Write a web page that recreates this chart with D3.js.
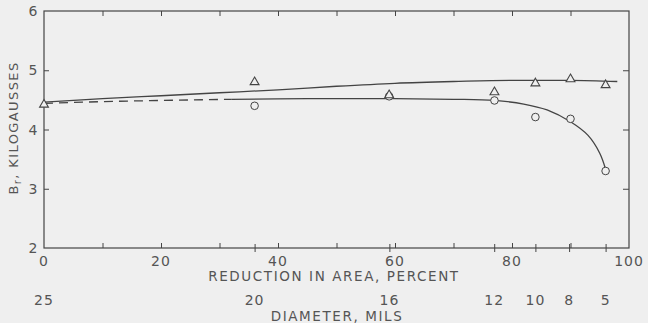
<!DOCTYPE html>
<html>
<head>
<meta charset="utf-8">
<script src="https://cdn.jsdelivr.net/npm/d3@7"></script>
<style>
  body { margin: 0; background: #efefef; }
  svg { display: block; }
  text { font-family: "DejaVu Sans", sans-serif; fill: #555; }
</style>
</head>
<body>
<div id="chart"></div>
<script>
// measured points (reduction in area %, Br kilogausses)
const triReduction = [0, 36, 59, 77, 84, 90, 96];
const triBr = [4.42, 4.80, 4.58, 4.63, 4.78, 4.85, 4.75];
const circReduction = [36, 59, 77, 84, 90, 96];
const circBr = [4.40, 4.56, 4.49, 4.21, 4.18, 3.30];

// faired curves
const upperX = [0, 10, 20, 30, 40, 50, 60, 70, 80, 90, 98];
const upperY = [4.46, 4.52, 4.57, 4.62, 4.67, 4.73, 4.78, 4.81, 4.83, 4.83, 4.81];
const dashX = [0, 10, 20, 32];
const dashY = [4.44, 4.47, 4.49, 4.51];
const lowerX = [32, 45, 60, 70, 77, 82, 86, 90, 93, 95, 96];
const lowerY = [4.51, 4.52, 4.52, 4.51, 4.49, 4.43, 4.33, 4.13, 3.90, 3.60, 3.33];

const xTicks = [0, 20, 40, 60, 80, 100];
const xMinor = [10, 20, 30, 40, 50, 60, 70, 80, 90];
const yTicks = [2, 3, 4, 5, 6];
const diameters = [25, 20, 16, 12, 10, 8, 5];

const width = 648, height = 323;
const margin = { top: 11, right: 19, bottom: 75, left: 44 };
const ink = "#444";

const svg = d3.select("#chart").append("svg")
  .attr("width", width).attr("height", height);

const x = d3.scaleLinear().domain([0, 100]).range([margin.left, width - margin.right]);
const y = d3.scaleLinear().domain([2, 6]).range([height - margin.bottom, margin.top]);

const x0 = x(0), x1 = x(100), y0 = y(2), y1 = y(6);
const dReduction = d => (1 - (d / 25) * (d / 25)) * 100;

// frame
svg.append("rect")
  .attr("x", x0).attr("y", y1)
  .attr("width", x1 - x0).attr("height", y0 - y1)
  .attr("fill", "none").attr("stroke", ink).attr("stroke-width", 1.2);

// bottom axis: percent ticks + diameter ticks
const bottom = svg.append("g").attr("transform", `translate(0,${y0})`);
bottom.call(d3.axisBottom(x).tickValues(xMinor).tickSize(-5).tickFormat(""));
bottom.append("g").call(d3.axisBottom(x).tickValues(diameters.slice(1).map(dReduction)).tickSize(4).tickFormat(""));
bottom.append("g").call(d3.axisBottom(x).tickValues(diameters.slice(1).map(dReduction)).tickSize(-4).tickFormat(""));
bottom.selectAll(".domain").remove();
bottom.selectAll("line").attr("stroke", ink);

svg.append("g").attr("transform", `translate(0,${y1})`)
  .call(d3.axisTop(x).tickValues(xMinor).tickSize(-5).tickFormat(""))
  .call(g => g.select(".domain").remove())
  .selectAll("line").attr("stroke", ink);

svg.append("g").attr("transform", `translate(${x0},0)`)
  .call(d3.axisLeft(y).tickValues([3, 4, 5]).tickSize(-5).tickFormat(""))
  .call(g => g.select(".domain").remove())
  .selectAll("line").attr("stroke", ink);

svg.append("g").attr("transform", `translate(${x1},0)`)
  .call(d3.axisRight(y).tickValues([3, 4, 5]).tickSize(-6).tickFormat(""))
  .call(g => g.select(".domain").remove())
  .selectAll("line").attr("stroke", ink);

// tick labels
svg.selectAll(".ylab").data(yTicks).enter().append("text")
  .attr("x", 33).attr("y", d => y(d) + 5)
  .attr("text-anchor", "middle").attr("font-size", 14)
  .text(d => d);

svg.selectAll(".xlab").data(xTicks).enter().append("text")
  .attr("x", d => x(d)).attr("y", y0 + 18)
  .attr("text-anchor", "middle").attr("font-size", 14)
  .attr("letter-spacing", 1)
  .text(d => d);

svg.selectAll(".dlab").data(diameters).enter().append("text")
  .attr("x", d => x(dReduction(d))).attr("y", y0 + 57)
  .attr("text-anchor", "middle").attr("font-size", 14)
  .attr("letter-spacing", 1)
  .text(d => d);

svg.append("text")
  .attr("x", 334).attr("y", y0 + 33)
  .attr("text-anchor", "middle").attr("font-size", 13.5)
  .attr("letter-spacing", 1.6)
  .text("REDUCTION IN AREA, PERCENT");

svg.append("text")
  .attr("x", 337).attr("y", y0 + 73)
  .attr("text-anchor", "middle").attr("font-size", 13.5)
  .attr("letter-spacing", 1.6)
  .text("DIAMETER, MILS");

const ylab = svg.append("text")
  .attr("transform", `translate(18,${128}) rotate(-90)`)
  .attr("text-anchor", "middle").attr("font-size", 13)
  .attr("letter-spacing", 1.4);
ylab.append("tspan").text("B");
ylab.append("tspan").attr("font-size", 10).attr("dy", 3).text("r");
ylab.append("tspan").attr("dy", -3).text(", KILOGAUSSES");

// curves
const line = d3.line().x(d => x(d[0])).y(d => y(d[1])).curve(d3.curveMonotoneX);
const zip = (a, b) => a.map((v, i) => [v, b[i]]);

svg.append("path").datum(zip(upperX, upperY))
  .attr("d", line).attr("fill", "none").attr("stroke", ink).attr("stroke-width", 1.3);
svg.append("path").datum(zip(dashX, dashY))
  .attr("d", line).attr("fill", "none").attr("stroke", ink).attr("stroke-width", 1.3)
  .attr("stroke-dasharray", "9,6");
svg.append("path").datum(zip(lowerX, lowerY))
  .attr("d", d3.line().x(d => x(d[0])).y(d => y(d[1])).curve(d3.curveCatmullRom))
  .attr("fill", "none").attr("stroke", ink).attr("stroke-width", 1.3);

// markers
svg.selectAll(".circ").data(zip(circReduction, circBr)).enter().append("circle")
  .attr("cx", d => x(d[0])).attr("cy", d => y(d[1])).attr("r", 3.8)
  .attr("fill", "#efefef").attr("stroke", ink).attr("stroke-width", 1);

const tri = d3.symbol().type(d3.symbolTriangle).size(34);
svg.selectAll(".tri").data(zip(triReduction, triBr)).enter().append("path")
  .attr("d", tri)
  .attr("transform", d => `translate(${x(d[0])},${y(d[1])})`)
  .attr("fill", "#efefef").attr("stroke", ink).attr("stroke-width", 1.1);
</script>
</body>
</html>
